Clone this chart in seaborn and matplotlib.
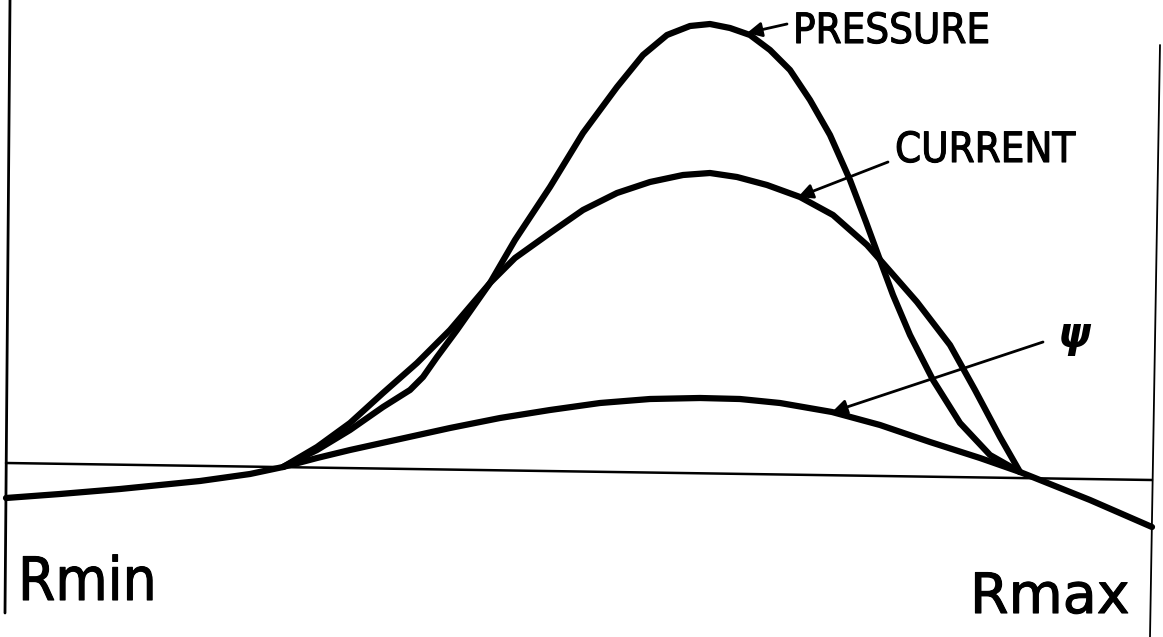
import numpy as np
import pandas as pd
import seaborn as sns
import matplotlib.pyplot as plt
import matplotlib.patheffects as pe

# Values: r is distance from Rmin, amp is height above the zero line
pressure_r = [277, 311, 344, 377, 404, 417, 431, 451, 484, 509, 544, 577, 611, 637, 661, 684,
              704, 724, 744, 764, 784, 804, 824, 844, 860, 874, 887, 904, 927, 954, 984, 1014]
pressure_amp = [3, 20, 40, 63, 80, 93, 113, 140, 187, 230, 283, 337, 383, 415, 435, 444,
                446, 442, 435, 420, 400, 370, 335, 290, 248, 210, 175, 135, 90, 47, 15, -2]

current_r = [277, 311, 344, 377, 411, 444, 484, 509, 544, 577, 611, 644, 677, 704,
             731, 761, 794, 827, 861, 876, 911, 944, 969, 994, 1014]
current_amp = [3, 23, 47, 77, 107, 140, 187, 212, 237, 260, 277, 288, 295, 297,
               293, 285, 273, 255, 225, 208, 168, 125, 80, 33, -2]

psi_r = [0, 54, 114, 194, 244, 277, 311, 344, 394, 444, 494, 544, 594, 644, 694,
         734, 774, 826, 874, 924, 974, 1014, 1084, 1146]
psi_amp = [-28, -24, -19, -11, -4, 3, 12, 20, 31, 42, 52, 60, 67, 71, 72,
           71, 67, 58, 45, 28, 12, -2, -30, -57]

zero_r = [0, 1146]
zero_amp = [7, -10]

rmin_wall_r = [4, -1]
rmin_wall_amp = [470, -143]
rmax_wall_r = [1154, 1144]
rmax_wall_amp = [425, -167]

sns.set_theme(style="white")
plt.rcParams['font.family'] = ['DejaVu Sans']

fig = plt.figure(figsize=(11.63, 6.37), dpi=100)
ax = fig.add_axes([0, 0, 1, 1])

# zero line and the two walls
sns.lineplot(x=zero_r, y=zero_amp, ax=ax, color="black", linewidth=1.8, sort=False, estimator=None)
sns.lineplot(x=rmin_wall_r, y=rmin_wall_amp, ax=ax, color="black", linewidth=2.0, sort=False, estimator=None)
sns.lineplot(x=rmax_wall_r, y=rmax_wall_amp, ax=ax, color="black", linewidth=1.3, sort=False, estimator=None)

# profiles
for r, amp in [(psi_r, psi_amp), (current_r, current_amp), (pressure_r, pressure_amp)]:
    df = pd.DataFrame({"r": r, "amp": amp})
    sns.lineplot(data=df, x="r", y="amp", ax=ax, color="black", linewidth=4.5,
                 sort=False, estimator=None, solid_capstyle="round", solid_joinstyle="round")

arrow = dict(arrowstyle="-|>", color="black", lw=2.0, mutation_scale=22, shrinkA=0, shrinkB=0)
thick = [pe.withStroke(linewidth=0.8, foreground="black")]

ax.annotate("", xy=(741, 437), xytext=(781, 446), arrowprops=arrow)
ax.text(787, 439, "PRESSURE", fontsize=30, fontstretch="condensed", color="black",
        va="center", ha="left", path_effects=thick)

ax.annotate("", xy=(792, 273), xytext=(882, 308), arrowprops=arrow)
ax.text(889, 320, "CURRENT", fontsize=30, fontstretch="condensed", color="black",
        va="center", ha="left", path_effects=thick)

ax.annotate("", xy=(826, 58), xytext=(1037, 128), arrowprops=arrow)
ax.text(1052, 135, "ψ", fontsize=30, fontstyle="italic", fontweight="bold", color="black",
        va="center", ha="left")

ax.text(12, -130, "Rmin", fontsize=43, fontstretch="condensed", color="black",
        va="baseline", ha="left", path_effects=thick)
ax.text(964, -143, "Rmax", fontsize=40, color="black",
        va="baseline", ha="left", path_effects=thick)

ax.set_xlim(-6, 1157)
ax.set_ylim(-167, 470)
ax.set_axis_off()

fig.savefig("out.png", dpi=100, facecolor="white")
